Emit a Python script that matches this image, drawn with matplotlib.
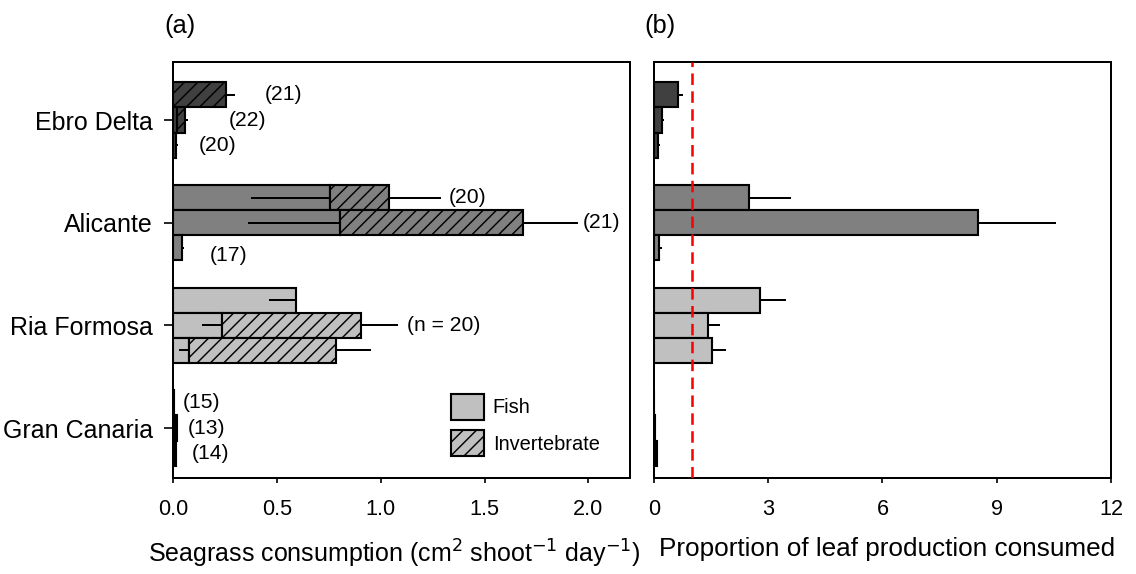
import numpy as np
import matplotlib
matplotlib.use("Agg")
import matplotlib.pyplot as plt
from matplotlib.patches import Patch

plt.rcParams['font.family'] = ['Liberation Sans', 'DejaVu Sans']
plt.rcParams['hatch.linewidth'] = 1.3

# sites from bottom to top, three bars per site (top, middle, bottom)
sites = ["Gran Canaria", "Ria Formosa", "Alicante", "Ebro Delta"]
site_colors = ["#000000", "#c0c0c0", "#808080", "#404040"]

# (a) seagrass consumption, cm2 shoot-1 day-1
fish = [[0.003, 0.02, 0.013],
        [0.592, 0.235, 0.077],
        [0.756, 0.803, 0.043],
        [0.0, 0.02, 0.015]]
fish_se = [[0, 0, 0],
           [0.132, 0.094, 0.048],
           [0.381, 0.44, 0],
           [0, 0, 0]]
invert = [[0, 0, 0],
          [0.0, 0.67, 0.708],
          [0.286, 0.883, 0.0],
          [0.254, 0.036, 0.0]]
total_se = [[0, 0, 0],
            [0, 0.178, 0.166],
            [0.25, 0.265, 0.01],
            [0.046, 0.016, 0.009]]
n_labels = [["(15)", "(13)", "(14)"],
            ["", "(n = 20)", ""],
            ["(20)", "(21)", "(17)"],
            ["(21)", "(22)", "(20)"]]
n_label_x = [[0.045, 0.069, 0.088],
             [0, 1.126, 0],
             [1.329, 1.972, 0.177],
             [0.444, 0.27, 0.122]]

# (b) proportion of leaf production consumed
prop = [[0.0, 0.03, 0.07],
        [2.79, 1.41, 1.53],
        [2.49, 8.5, 0.13],
        [0.64, 0.2, 0.11]]
prop_se = [[0, 0, 0],
           [0.68, 0.33, 0.37],
           [1.12, 2.06, 0.09],
           [0.13, 0.07, 0.05]]

DPI = 80
fig = plt.figure(figsize=(1136 / DPI, 574 / DPI), dpi=DPI)
ax1 = fig.add_axes([173 / 1136, 1 - 478 / 574, 457 / 1136, 416 / 574])
ax2 = fig.add_axes([654 / 1136, 1 - 478 / 574, 457 / 1136, 416 / 574])

h = 0.245
offsets = [h, 0, -h]
EW = 1.9
ELW = 1.8

for i, site in enumerate(sites):
    for j in range(3):
        y = i + offsets[j]
        f = fish[i][j]
        v = invert[i][j]
        ax1.barh(y, f, height=h, color=site_colors[i], edgecolor="black", linewidth=EW, zorder=2)
        if v > 0:
            ax1.barh(y, v, left=f, height=h, color=site_colors[i], edgecolor="black",
                     linewidth=EW, hatch="//", zorder=2)
        if fish_se[i][j] > 0:
            ax1.errorbar(f, y, xerr=[[fish_se[i][j]], [0]], fmt="none", ecolor="black",
                         elinewidth=ELW, capsize=0, zorder=3)
        if total_se[i][j] > 0:
            ax1.errorbar(f + v, y, xerr=[[0], [total_se[i][j]]], fmt="none", ecolor="black",
                         elinewidth=ELW, capsize=0, zorder=3)
        if n_labels[i][j]:
            dy = -0.07 if (i == 2 and j == 2) else 0
            ax1.text(n_label_x[i][j], y + dy, n_labels[i][j], fontsize=19, va="center", ha="left")

        p = prop[i][j]
        ax2.barh(y, p, height=h, color=site_colors[i], edgecolor="black", linewidth=EW, zorder=2)
        if prop_se[i][j] > 0:
            ax2.errorbar(p, y, xerr=[[0], [prop_se[i][j]]], fmt="none", ecolor="black",
                         elinewidth=ELW, capsize=0, zorder=3)

ax2.axvline(1, color="red", linewidth=2.3, linestyle=(0, (4.5, 2.5)), zorder=4)

ylim = (-0.487, 3.565)
for ax in (ax1, ax2):
    ax.set_ylim(ylim)
    for s in ax.spines.values():
        s.set_linewidth(1.8)
    ax.tick_params(axis="x", direction="out", length=4.5, width=1.5, pad=14)

ax1.set_xlim(0, 2.2)
ax1.set_xticks([0, 0.5, 1.0, 1.5, 2.0])
ax1.set_xticklabels(["0.0", "0.5", "1.0", "1.5", "2.0"], fontsize=19.5)
ax1.set_yticks(range(len(sites)))
ax1.set_yticklabels(sites, fontsize=22.5)
ax1.tick_params(axis="y", direction="out", length=8, width=1.5, pad=10)
ax1.set_xlabel("Seagrass consumption (cm$^2$ shoot$^{\\mathsf{-1}}$ day$^{\\mathsf{-1}}$)",
               fontsize=22.5, labelpad=16)
ax1.xaxis.label.set_x(0.484)

ax2.set_xlim(0, 12)
ax2.set_xticks([0, 3, 6, 9, 12])
ax2.set_xticklabels(["0", "3", "6", "9", "12"], fontsize=19.5)
ax2.set_yticks([])
ax2.set_xlabel("Proportion of leaf production consumed", fontsize=23.5, labelpad=15.5)
ax2.xaxis.label.set_x(0.509)

handles = [Patch(facecolor="#c0c0c0", edgecolor="black", linewidth=EW, label="Fish"),
           Patch(facecolor="#c0c0c0", edgecolor="black", linewidth=EW, hatch="//", label="Invertebrate")]
ax1.legend(handles=handles, loc="upper left", bbox_to_anchor=(0.608, 0.203), frameon=False,
           fontsize=18, handlelength=1.65, handleheight=1.65, labelspacing=0.5,
           handletextpad=0.45, borderpad=0, borderaxespad=0)

fig.text(180 / 1136, 1 - 26 / 574, "(a)", fontsize=23, ha="center", va="center")
fig.text(660 / 1136, 1 - 26 / 574, "(b)", fontsize=23, ha="center", va="center")

fig.savefig("out.png", dpi=DPI)
